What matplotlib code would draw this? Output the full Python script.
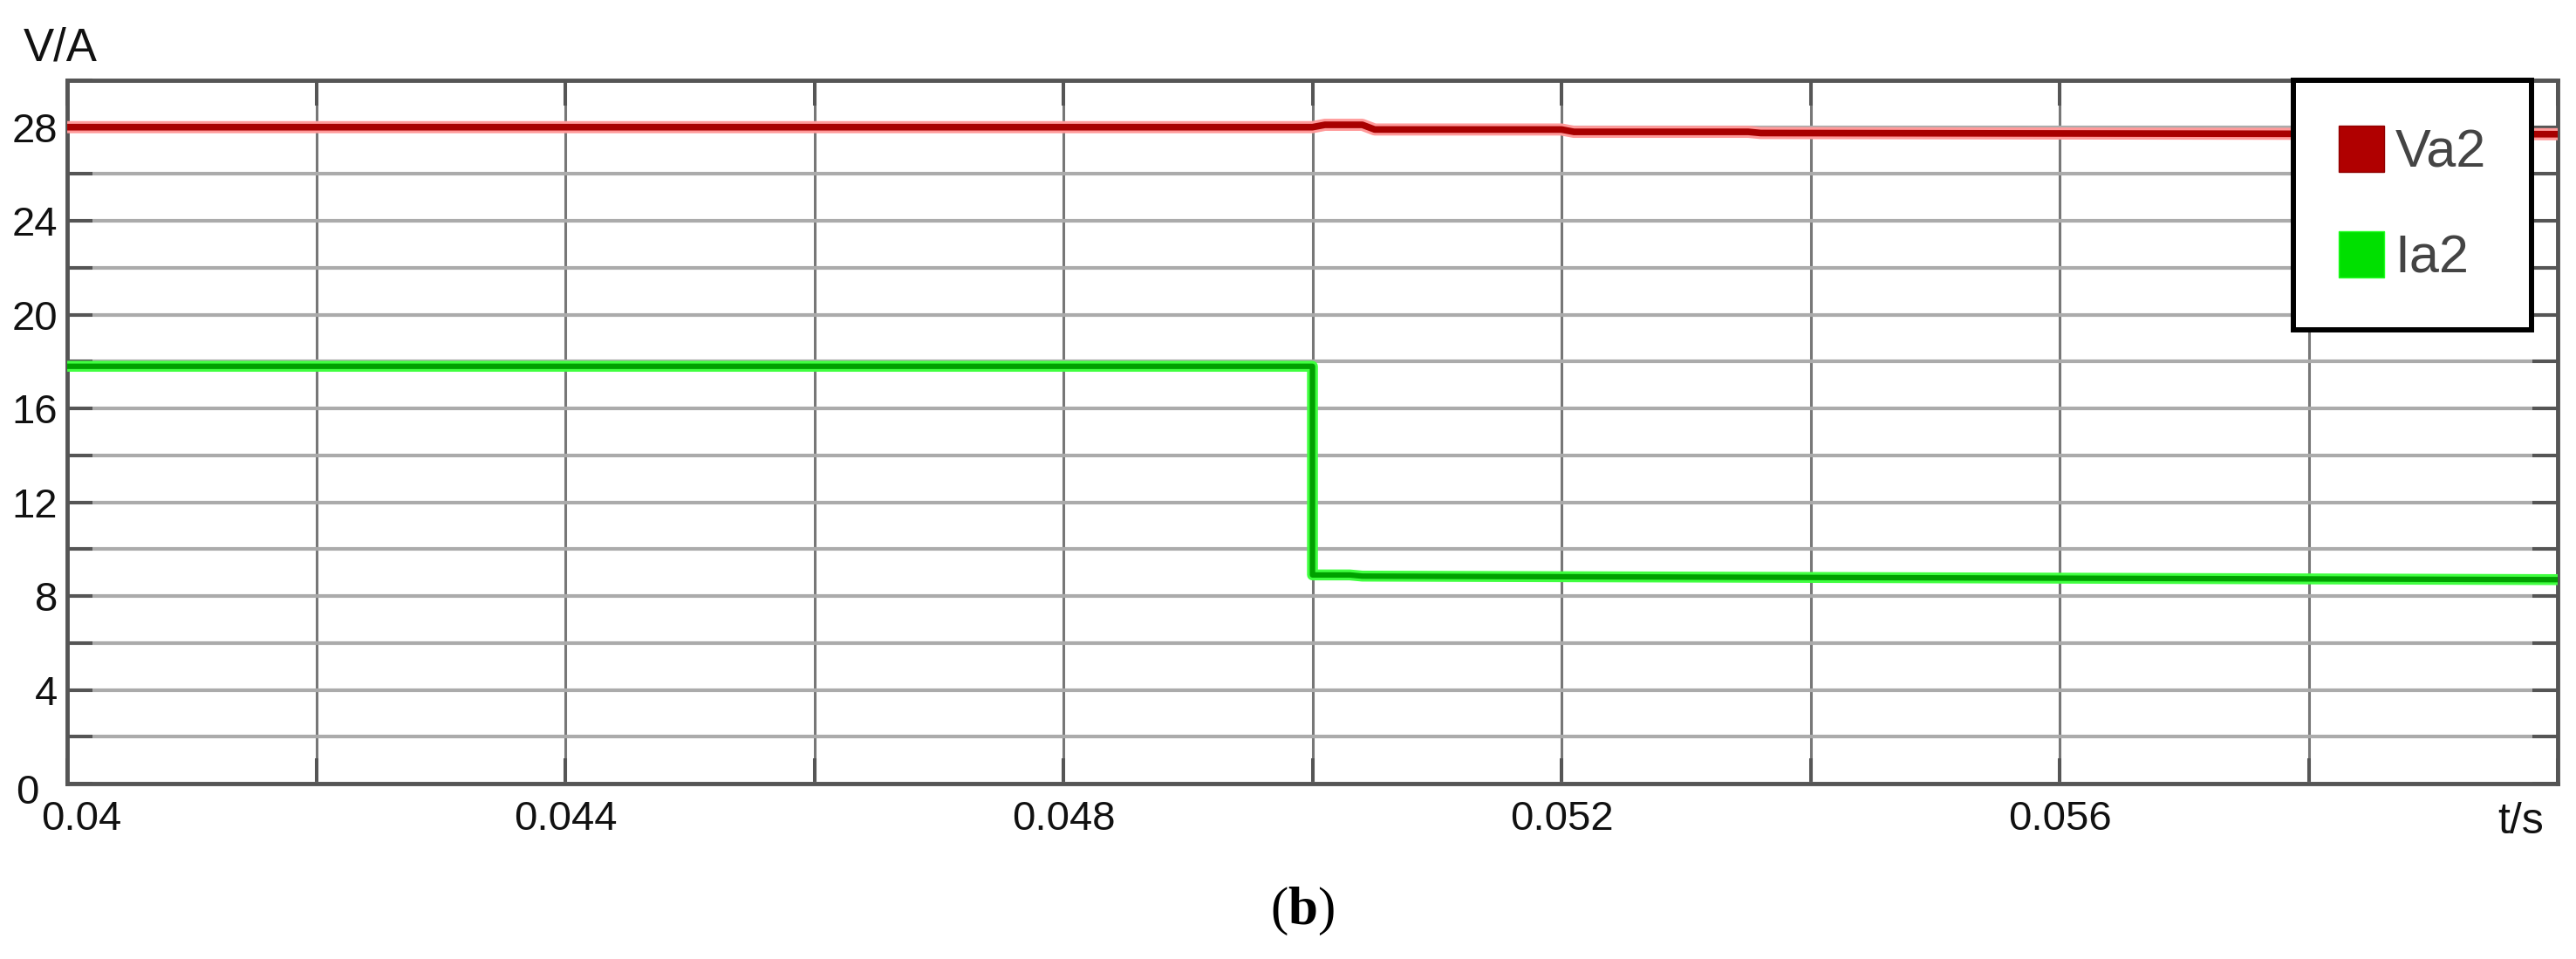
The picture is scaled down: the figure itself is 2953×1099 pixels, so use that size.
import matplotlib
matplotlib.use("Agg")
import matplotlib.pyplot as plt
from matplotlib.patches import Patch
from matplotlib.transforms import ScaledTranslation
import numpy as np

# waveform data
t_va = [0.040, 0.0500, 0.0501, 0.0504, 0.0505, 0.0520, 0.0521, 0.0535, 0.0536, 0.060]
va2 = [28.0, 28.0, 28.1, 28.1, 27.9, 27.9, 27.8, 27.8, 27.75, 27.7]

t_ia = [0.040, 0.0500, 0.0500, 0.0503, 0.0504, 0.060]
ia2 = [17.8, 17.8, 8.9, 8.9, 8.85, 8.7]

x_ticks = [0.040, 0.042, 0.044, 0.046, 0.048, 0.050, 0.052, 0.054, 0.056, 0.058, 0.060]
x_labels = ["0.04", "", "0.044", "", "0.048", "", "0.052", "", "0.056", "", ""]
y_ticks = [0, 2, 4, 6, 8, 10, 12, 14, 16, 18, 20, 22, 24, 26, 28, 30]
y_labels = ["0", "", "4", "", "8", "", "12", "", "16", "", "20", "", "24", "", "28", ""]

plt.rcParams['font.family'] = ['Liberation Sans', 'DejaVu Sans']
plt.rcParams['mathtext.fontset'] = 'custom'
plt.rcParams['mathtext.rm'] = 'Liberation Serif'
plt.rcParams['mathtext.bf'] = 'Liberation Serif:bold'

fig = plt.figure(figsize=(29.53, 10.99), dpi=100)
ax = fig.add_axes([0.0261, 0.1829, 0.9668, 0.7334])

# scope-like glow: a light halo under a darker core
ax.plot(t_va, va2, color='#ff9a9a', lw=10, solid_capstyle='butt', zorder=3)
ax.plot(t_va, va2, color='#a80000', lw=5.5, solid_capstyle='butt', zorder=4)
ax.plot(t_ia, ia2, color='#40ff40', lw=9, solid_capstyle='butt', zorder=3)
ax.plot(t_ia, ia2, color='#00a000', lw=4.5, solid_capstyle='butt', zorder=4)

ax.set_xlim(0.04, 0.06)
ax.set_ylim(0, 30)
ax.set_xticks(x_ticks)
ax.set_xticklabels(x_labels)
ax.set_yticks(y_ticks)
ax.set_yticklabels(y_labels)

ax.set_axisbelow(True)
ax.grid(axis='y', color='#ababab', lw=3.0)
ax.grid(axis='x', color='#777777', lw=2.2)

ax.tick_params(direction='in', length=21, width=2.9, color='#555555',
               top=True, right=True, labelsize=34, labelcolor='#111111')
ax.tick_params(axis='x', pad=14)
ax.tick_params(axis='y', pad=8)
for sp in ax.spines.values():
    sp.set_color('#555555')
    sp.set_linewidth(3.5)

# the first time label sits a bit right of its tick, the 0 further left and lower
lbl = ax.get_xticklabels()[0]
lbl.set_transform(lbl.get_transform() + ScaledTranslation(16 / 100, 0, fig.dpi_scale_trans))
lbl0 = ax.get_yticklabels()[0]
lbl0.set_transform(lbl0.get_transform() + ScaledTranslation(-21 / 100, -6 / 100, fig.dpi_scale_trans))

fig.text(27 / 2953, 1 - 70 / 1099, "V/A", fontsize=38, color='#111111', ha='left', va='baseline')
ax.text(0.985, -0.026, "t/s", transform=ax.transAxes, fontsize=36, color='#111111',
        ha='center', va='top')

handles = [Patch(facecolor='#b00000', edgecolor='#900000', label='Va2'),
           Patch(facecolor='#00e000', edgecolor='#20ff20', label='Ia2')]
leg = ax.legend(handles=handles, loc='upper left', bbox_to_anchor=(0.894, 1.0),
                prop={'size': 44}, labelcolor='#444444', fancybox=False, framealpha=1,
                edgecolor='black', borderpad=0.85, labelspacing=1.0, handlelength=0.85,
                handleheight=0.95, handletextpad=0.2, borderaxespad=0)
leg.get_frame().set_linewidth(4.3)
leg.set_zorder(10)

fig.text(0.5056, 0.05, r"$(\mathbf{b})$", fontsize=44, ha='center', va='center')

fig.savefig("out.png", dpi=100)
